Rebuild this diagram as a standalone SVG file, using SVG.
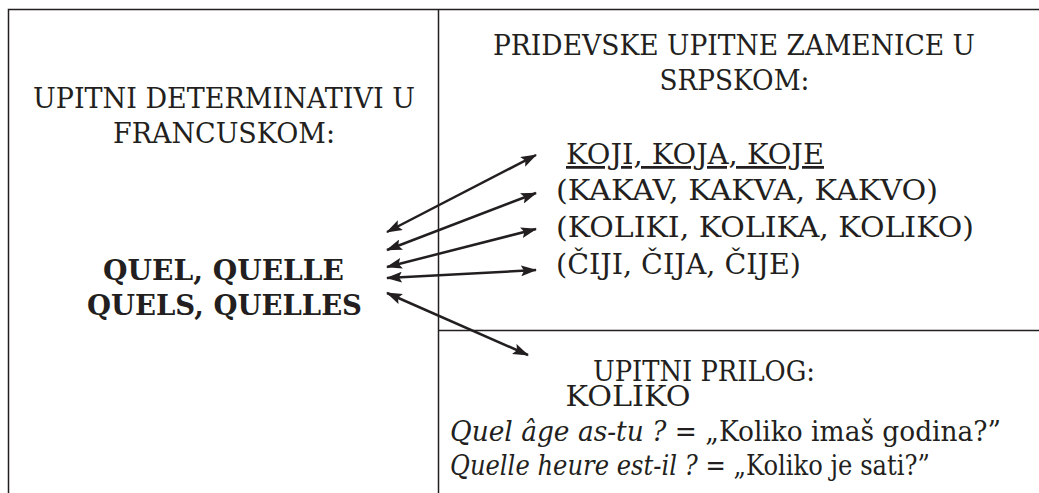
<svg xmlns="http://www.w3.org/2000/svg" width="1039" height="493" viewBox="0 0 1039 493">
<style>
.t{font-family:"DejaVu Serif",serif;font-size:27.5px;fill:#231f20}
.b{font-weight:bold;font-size:28.5px}
.c{text-anchor:middle}
.u{text-decoration:underline;text-decoration-skip-ink:none}
.frame{stroke:#231f20;stroke-width:1.5;fill:none}
.arr{stroke:#231f20;stroke-width:2.5;fill:none;marker-start:url(#ah);marker-end:url(#ah)}
</style>
<defs>
<marker id="ah" viewBox="0 0 16 11" refX="15" refY="5.5" markerWidth="16" markerHeight="11" markerUnits="userSpaceOnUse" orient="auto-start-reverse">
<path d="M0,0 L16,5.5 L0,11 L3,5.5 Z" fill="#231f20"/>
</marker>
</defs>
<g id="frame">
<path class="frame" d="M8.5,493 V9.5 H1039 M438.5,9.5 V493 M438.5,330.5 H1039"/>
</g>
<g id="french">
<text class="t c" x="224" y="108" textLength="382" lengthAdjust="spacingAndGlyphs">UPITNI DETERMINATIVI U</text>
<text class="t c" x="224" y="143" textLength="222" lengthAdjust="spacingAndGlyphs">FRANCUSKOM:</text>
<text class="t c b" x="223.5" y="280" textLength="241" lengthAdjust="spacingAndGlyphs">QUEL, QUELLE</text>
<text class="t c b" x="224.5" y="315" textLength="275" lengthAdjust="spacingAndGlyphs">QUELS, QUELLES</text>
</g>
<g id="serbian">
<text class="t c" x="734" y="55" textLength="482" lengthAdjust="spacingAndGlyphs">PRIDEVSKE UPITNE ZAMENICE U</text>
<text class="t c" x="734.5" y="90" textLength="150" lengthAdjust="spacingAndGlyphs">SRPSKOM:</text>
<text class="t u" x="566" y="164" textLength="258" lengthAdjust="spacingAndGlyphs">KOJI, KOJA, KOJE</text>
<text class="t" x="556" y="200" textLength="382" lengthAdjust="spacingAndGlyphs">(KAKAV, KAKVA, KAKVO)</text>
<text class="t" x="556" y="237" textLength="418" lengthAdjust="spacingAndGlyphs">(KOLIKI, KOLIKA, KOLIKO)</text>
<text class="t" x="556" y="274" textLength="245" lengthAdjust="spacingAndGlyphs">(ČIJI, ČIJA, ČIJE)</text>
</g>
<g id="adverb">
<text class="t c" x="704" y="381" textLength="222" lengthAdjust="spacingAndGlyphs">UPITNI PRILOG:</text>
<text class="t c" x="628" y="406" textLength="125" lengthAdjust="spacingAndGlyphs">KOLIKO</text>
<text class="t" x="450" y="441" textLength="551" lengthAdjust="spacingAndGlyphs"><tspan font-style="italic">Quel âge as-tu ?</tspan> = „Koliko imaš godina?”</text>
<text class="t" x="450" y="475" textLength="480" lengthAdjust="spacingAndGlyphs"><tspan font-style="italic">Quelle heure est-il ?</tspan> = „Koliko je sati?”</text>
</g>
<g id="connectors">
<line class="arr" x1="387" y1="232" x2="536" y2="155"/>
<line class="arr" x1="387" y1="250" x2="536" y2="193"/>
<line class="arr" x1="387" y1="267" x2="536" y2="229"/>
<line class="arr" x1="387" y1="278" x2="536" y2="270"/>
<line class="arr" x1="387" y1="293" x2="528" y2="355"/>
</g>
</svg>
